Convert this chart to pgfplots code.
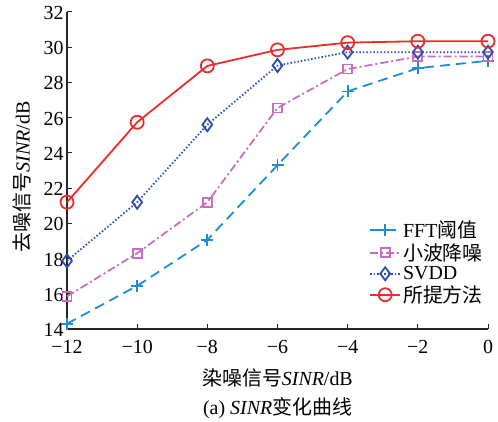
\documentclass[border=0pt]{standalone}
\usepackage{fontspec}
\setmainfont{Liberation Serif}
\newfontfamily\cjk{Noto Sans CJK SC}
\usepackage{pgfplots}
\pgfplotsset{compat=1.18}
\definecolor{cfft}{RGB}{30,140,215}
\definecolor{cwav}{RGB}{200,110,190}
\definecolor{csvdd}{RGB}{45,80,175}
\definecolor{cprop}{RGB}{235,45,45}
\begin{document}
\begin{tikzpicture}
\useasboundingbox (-67bp,-93bp) rectangle (431bp,329bp);
\begin{axis}[
  at={(0,0)}, anchor=south west,
  width=421bp, height=317bp, scale only axis,
  xmin=-12, xmax=0, ymin=14, ymax=32,
  clip=false,
  axis x line*=bottom, axis y line*=left,
  axis line style={black!85, line width=1.2bp, -},
  xtick={-12,-10,...,0}, xticklabels={−12,−10,−8,−6,−4,−2,0},
  ytick={14,16,...,32},
  /pgf/number format/assume math mode=true,
  tick align=inside, major tick length=5bp,
  tick style={black!85, line width=1bp},
  ticklabel style={font=\fontsize{20}{22}\selectfont},
  xticklabel style={yshift=-8bp},
  yticklabel style={yshift=-1bp},
  label style={font=\fontsize{20}{22}\selectfont},
  xlabel={{\cjk 染噪信号}\textit{SINR}/dB},
  ylabel={{\cjk 去噪信号}\textit{SINR}/dB},
  xlabel style={at={(axis description cs:0.5,-0.155)}, anchor=center},
  ylabel style={at={(axis description cs:-0.107,0.48)}, anchor=center},
  legend style={draw=none, fill=none, at={(1,0.21)}, anchor=east,
    font=\fontsize{20}{22}\selectfont, legend cell align=left, row sep=0.5bp},
  legend image code/.code={\draw[mark repeat=2,mark phase=2] plot coordinates {(0bp,0bp) (15bp,0bp) (30bp,0bp)};},
  every axis plot/.append style={line width=1.8bp},
]
\addplot[cfft, dash pattern=on 10bp off 6bp, mark=+, mark size=6bp, mark options={solid}]
  coordinates {(-12,14.3) (-10,16.45) (-8,19.06) (-6,23.3) (-4,27.49) (-2,28.81) (0,29.23)};
\addlegendentry{FFT{\cjk 阈值}}
\addplot[cwav, dash pattern=on 8bp off 3bp on 2bp off 3bp, mark=square, mark size=4.5bp, mark options={solid}]
  coordinates {(-12,15.85) (-10,18.3) (-8,21.2) (-6,26.55) (-4,28.76) (-2,29.47) (0,29.47)};
\addlegendentry{{\cjk 小波降噪}}
\addplot[csvdd, dash pattern=on 1.5bp off 2bp, mark=diamond, mark size=6.5bp, mark options={solid}]
  coordinates {(-12,17.87) (-10,21.2) (-8,25.6) (-6,28.96) (-4,29.72) (-2,29.72) (0,29.72)};
\addlegendentry{SVDD}
\addplot[cprop, solid, mark=o, mark size=6.5bp]
  coordinates {(-12,21.2) (-10,25.74) (-8,28.94) (-6,29.85) (-4,30.26) (-2,30.34) (0,30.34)};
\addlegendentry{{\cjk 所提方法}}
\node[font=\fontsize{20}{22}\selectfont, anchor=center] at (axis description cs:0.5,-0.249) {(a) \textit{SINR}{\cjk 变化曲线}};
\end{axis}
\end{tikzpicture}
\end{document}
